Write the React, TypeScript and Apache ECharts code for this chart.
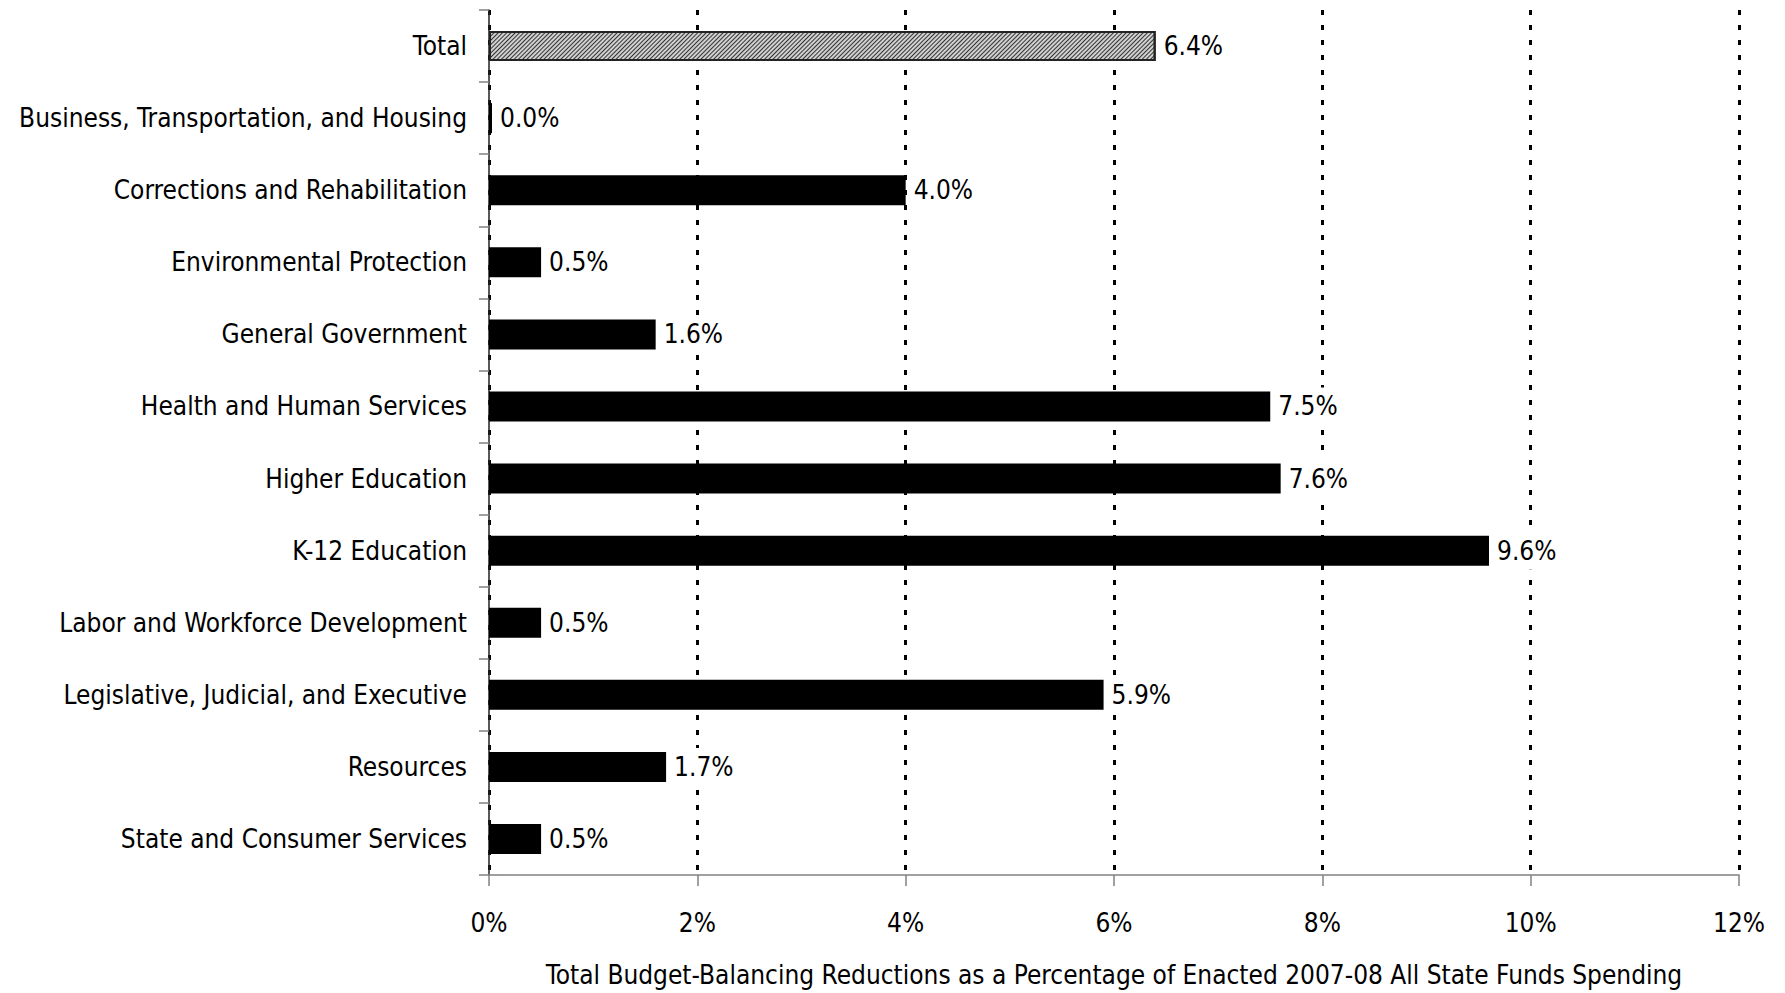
import React, { useEffect, useRef } from "react";
import * as echarts from "echarts";

const categories: string[] = [
  "Total",
  "Business, Transportation, and Housing",
  "Corrections and Rehabilitation",
  "Environmental Protection",
  "General Government",
  "Health and Human Services",
  "Higher Education",
  "K-12 Education",
  "Labor and Workforce Development",
  "Legislative, Judicial, and Executive",
  "Resources",
  "State and Consumer Services",
];

const reductionPct: number[] = [6.4, 0.0, 4.0, 0.5, 1.6, 7.5, 7.6, 9.6, 0.5, 5.9, 1.7, 0.5];

const xTicks: number[] = [0, 2, 4, 6, 8, 10, 12];

const axisTitle = "Total Budget-Balancing Reductions as a Percentage of Enacted 2007-08 All State Funds Spending";

const FONT = '"Liberation Sans Narrow", "DejaVu Sans Condensed", "Roboto", sans-serif';
const FS = 26;

export default function App() {
  const ref = useRef<HTMLDivElement>(null);
  useEffect(() => {
    document.body.style.margin = "0";
    if (!ref.current) return;
    const chart = echarts.init(ref.current, undefined, { renderer: "svg" });
    const data = reductionPct.map((v, i) =>
      i === 0
        ? {
            value: v,
            itemStyle: {
              color: "#d0d0d0",
              borderColor: "#222",
              borderWidth: 2,
              decal: {
                symbol: "rect",
                symbolSize: 1,
                dashArrayX: [[1, 0]],
                dashArrayY: [1, 2],
                rotation: -Math.PI / 4,
                color: "#333",
              },
            },
          }
        : { value: v }
    );
    chart.setOption({
      animation: false,
      textStyle: { fontFamily: FONT },
      grid: {
        left: 489,
        right: 46,
        top: 10,
        bottom: 118,
        containLabel: false,
        outerBoundsMode: "none",
      },
      xAxis: {
        type: "value",
        min: xTicks[0],
        max: xTicks[xTicks.length - 1],
        interval: 2,
        name: axisTitle,
        nameLocation: "middle",
        nameGap: 87,
        nameTextStyle: { fontFamily: FONT, fontSize: FS, color: "#000" },
        axisLine: { show: true, lineStyle: { color: "#808080", width: 1.5 } },
        axisTick: { show: true, length: 11, lineStyle: { color: "#808080", width: 1.5 } },
        axisLabel: {
          fontFamily: FONT,
          fontSize: FS,
          color: "#000",
          margin: 35,
          formatter: (v: number) => v + "%",
        },
        splitLine: {
          show: true,
          lineStyle: { color: "#000", width: 3, type: [5, 10] },
        },
      },
      yAxis: {
        type: "category",
        data: categories,
        inverse: true,
        axisLine: { show: true, lineStyle: { color: "#222", width: 1.5 } },
        axisTick: { show: true, length: 10, lineStyle: { color: "#808080", width: 1.5 } },
        axisLabel: { fontFamily: FONT, fontSize: FS, color: "#000", margin: 22 },
        splitLine: { show: false },
      },
      series: [
        {
          type: "bar",
          data,
          barWidth: 30,
          barMinHeight: 3,
          itemStyle: { color: "#000" },
          label: {
            show: true,
            position: "right",
            distance: 5,
            fontFamily: FONT,
            fontSize: FS,
            color: "#000",
            backgroundColor: "#fff",
            padding: [6, 3],
            formatter: (p: any) => Number(p.value).toFixed(1) + "%",
          },
        },
      ],
    });
    return () => chart.dispose();
  }, []);
  return <div ref={ref} style={{ width: 1785, height: 993 }} />;
}
